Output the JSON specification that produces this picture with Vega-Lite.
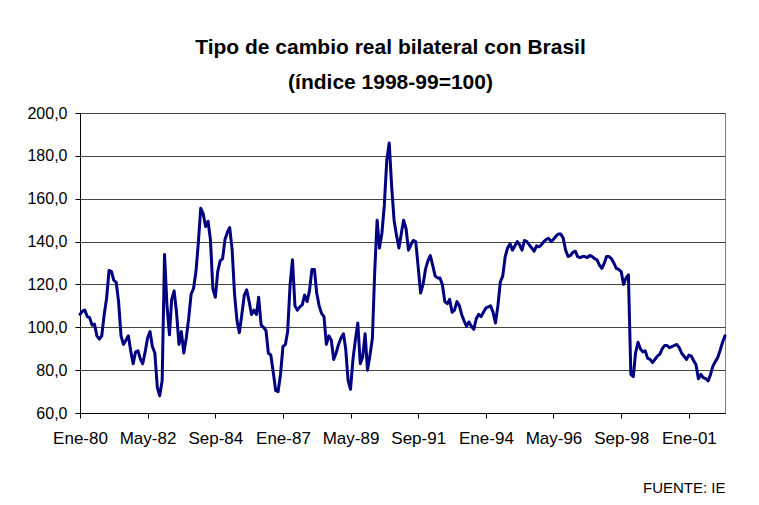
{
  "$schema": "https://vega.github.io/schema/vega-lite/v6.json",
  "width": 645,
  "height": 300,
  "autosize": {"type": "none"},
  "padding": {"left": 80, "top": 113, "right": 34, "bottom": 92},
  "background": "white",
  "title": {
    "text": ["Tipo de cambio real bilateral con Brasil", "(índice 1998-99=100)"],
    "font": "Liberation Sans",
    "fontSize": 21,
    "fontWeight": "bold",
    "color": "black",
    "anchor": "middle",
    "dx": -12,
    "offset": 12,
    "lineHeight": 35
  },
  "data": {
    "values": [
      {"fecha": "1980-01-01", "indice": 106}, {"fecha": "1980-02-01", "indice": 107.5}, {"fecha": "1980-03-01", "indice": 108}, {"fecha": "1980-04-01", "indice": 105}, {"fecha": "1980-05-01", "indice": 104.5}, {"fecha": "1980-06-01", "indice": 101}, {"fecha": "1980-07-01", "indice": 101.5}, {"fecha": "1980-08-01", "indice": 96}, {"fecha": "1980-09-01", "indice": 94.5}, {"fecha": "1980-10-01", "indice": 96}, {"fecha": "1980-11-01", "indice": 106}, {"fecha": "1980-12-01", "indice": 113.5},
      {"fecha": "1981-01-01", "indice": 126.5}, {"fecha": "1981-02-01", "indice": 126}, {"fecha": "1981-03-01", "indice": 122}, {"fecha": "1981-04-01", "indice": 121}, {"fecha": "1981-05-01", "indice": 112}, {"fecha": "1981-06-01", "indice": 96}, {"fecha": "1981-07-01", "indice": 92}, {"fecha": "1981-08-01", "indice": 94}, {"fecha": "1981-09-01", "indice": 96}, {"fecha": "1981-10-01", "indice": 89}, {"fecha": "1981-11-01", "indice": 83}, {"fecha": "1981-12-01", "indice": 88.5},
      {"fecha": "1982-01-01", "indice": 89}, {"fecha": "1982-02-01", "indice": 85}, {"fecha": "1982-03-01", "indice": 83}, {"fecha": "1982-04-01", "indice": 88.5}, {"fecha": "1982-05-01", "indice": 95}, {"fecha": "1982-06-01", "indice": 98}, {"fecha": "1982-07-01", "indice": 91}, {"fecha": "1982-08-01", "indice": 88}, {"fecha": "1982-09-01", "indice": 72}, {"fecha": "1982-10-01", "indice": 68}, {"fecha": "1982-11-01", "indice": 75}, {"fecha": "1982-12-01", "indice": 134},
      {"fecha": "1983-01-01", "indice": 110}, {"fecha": "1983-02-01", "indice": 96.5}, {"fecha": "1983-03-01", "indice": 113}, {"fecha": "1983-04-01", "indice": 117}, {"fecha": "1983-05-01", "indice": 107}, {"fecha": "1983-06-01", "indice": 92}, {"fecha": "1983-07-01", "indice": 98}, {"fecha": "1983-08-01", "indice": 88}, {"fecha": "1983-09-01", "indice": 95}, {"fecha": "1983-10-01", "indice": 104}, {"fecha": "1983-11-01", "indice": 115.5}, {"fecha": "1983-12-01", "indice": 118},
      {"fecha": "1984-01-01", "indice": 126}, {"fecha": "1984-02-01", "indice": 140}, {"fecha": "1984-03-01", "indice": 155.5}, {"fecha": "1984-04-01", "indice": 153}, {"fecha": "1984-05-01", "indice": 147}, {"fecha": "1984-06-01", "indice": 149.5}, {"fecha": "1984-07-01", "indice": 141}, {"fecha": "1984-08-01", "indice": 118}, {"fecha": "1984-09-01", "indice": 114}, {"fecha": "1984-10-01", "indice": 126}, {"fecha": "1984-11-01", "indice": 131}, {"fecha": "1984-12-01", "indice": 132},
      {"fecha": "1985-01-01", "indice": 141}, {"fecha": "1985-02-01", "indice": 144.5}, {"fecha": "1985-03-01", "indice": 146.5}, {"fecha": "1985-04-01", "indice": 136}, {"fecha": "1985-05-01", "indice": 115.5}, {"fecha": "1985-06-01", "indice": 103}, {"fecha": "1985-07-01", "indice": 97.5}, {"fecha": "1985-08-01", "indice": 106}, {"fecha": "1985-09-01", "indice": 115}, {"fecha": "1985-10-01", "indice": 117.5}, {"fecha": "1985-11-01", "indice": 112}, {"fecha": "1985-12-01", "indice": 106},
      {"fecha": "1986-01-01", "indice": 108}, {"fecha": "1986-02-01", "indice": 106}, {"fecha": "1986-03-01", "indice": 114}, {"fecha": "1986-04-01", "indice": 101}, {"fecha": "1986-05-01", "indice": 100}, {"fecha": "1986-06-01", "indice": 98.5}, {"fecha": "1986-07-01", "indice": 88}, {"fecha": "1986-08-01", "indice": 87}, {"fecha": "1986-09-01", "indice": 79}, {"fecha": "1986-10-01", "indice": 70.5}, {"fecha": "1986-11-01", "indice": 70}, {"fecha": "1986-12-01", "indice": 78},
      {"fecha": "1987-01-01", "indice": 91}, {"fecha": "1987-02-01", "indice": 92}, {"fecha": "1987-03-01", "indice": 98}, {"fecha": "1987-04-01", "indice": 120}, {"fecha": "1987-05-01", "indice": 131.5}, {"fecha": "1987-06-01", "indice": 110}, {"fecha": "1987-07-01", "indice": 108}, {"fecha": "1987-08-01", "indice": 109.5}, {"fecha": "1987-09-01", "indice": 110.5}, {"fecha": "1987-10-01", "indice": 115}, {"fecha": "1987-11-01", "indice": 112}, {"fecha": "1987-12-01", "indice": 117},
      {"fecha": "1988-01-01", "indice": 127}, {"fecha": "1988-02-01", "indice": 127}, {"fecha": "1988-03-01", "indice": 116}, {"fecha": "1988-04-01", "indice": 110}, {"fecha": "1988-05-01", "indice": 106.5}, {"fecha": "1988-06-01", "indice": 105}, {"fecha": "1988-07-01", "indice": 92}, {"fecha": "1988-08-01", "indice": 96}, {"fecha": "1988-09-01", "indice": 94}, {"fecha": "1988-10-01", "indice": 85}, {"fecha": "1988-11-01", "indice": 88}, {"fecha": "1988-12-01", "indice": 92},
      {"fecha": "1989-01-01", "indice": 95}, {"fecha": "1989-02-01", "indice": 97}, {"fecha": "1989-03-01", "indice": 90}, {"fecha": "1989-04-01", "indice": 75}, {"fecha": "1989-05-01", "indice": 71}, {"fecha": "1989-06-01", "indice": 85}, {"fecha": "1989-07-01", "indice": 94}, {"fecha": "1989-08-01", "indice": 102}, {"fecha": "1989-09-01", "indice": 83}, {"fecha": "1989-10-01", "indice": 86}, {"fecha": "1989-11-01", "indice": 97}, {"fecha": "1989-12-01", "indice": 80},
      {"fecha": "1990-01-01", "indice": 87}, {"fecha": "1990-02-01", "indice": 95}, {"fecha": "1990-03-01", "indice": 125}, {"fecha": "1990-04-01", "indice": 150}, {"fecha": "1990-05-01", "indice": 137}, {"fecha": "1990-06-01", "indice": 144}, {"fecha": "1990-07-01", "indice": 157}, {"fecha": "1990-08-01", "indice": 178}, {"fecha": "1990-09-01", "indice": 186}, {"fecha": "1990-10-01", "indice": 166}, {"fecha": "1990-11-01", "indice": 150}, {"fecha": "1990-12-01", "indice": 143},
      {"fecha": "1991-01-01", "indice": 137}, {"fecha": "1991-02-01", "indice": 144}, {"fecha": "1991-03-01", "indice": 150}, {"fecha": "1991-04-01", "indice": 146}, {"fecha": "1991-05-01", "indice": 136}, {"fecha": "1991-06-01", "indice": 138.5}, {"fecha": "1991-07-01", "indice": 140.5}, {"fecha": "1991-08-01", "indice": 140}, {"fecha": "1991-09-01", "indice": 128}, {"fecha": "1991-10-01", "indice": 116}, {"fecha": "1991-11-01", "indice": 120}, {"fecha": "1991-12-01", "indice": 127},
      {"fecha": "1992-01-01", "indice": 131}, {"fecha": "1992-02-01", "indice": 133.5}, {"fecha": "1992-03-01", "indice": 129}, {"fecha": "1992-04-01", "indice": 124}, {"fecha": "1992-05-01", "indice": 123}, {"fecha": "1992-06-01", "indice": 123}, {"fecha": "1992-07-01", "indice": 120}, {"fecha": "1992-08-01", "indice": 112}, {"fecha": "1992-09-01", "indice": 111}, {"fecha": "1992-10-01", "indice": 113}, {"fecha": "1992-11-01", "indice": 107}, {"fecha": "1992-12-01", "indice": 108},
      {"fecha": "1993-01-01", "indice": 112}, {"fecha": "1993-02-01", "indice": 110}, {"fecha": "1993-03-01", "indice": 106}, {"fecha": "1993-04-01", "indice": 103}, {"fecha": "1993-05-01", "indice": 100.5}, {"fecha": "1993-06-01", "indice": 102.5}, {"fecha": "1993-07-01", "indice": 100.5}, {"fecha": "1993-08-01", "indice": 99}, {"fecha": "1993-09-01", "indice": 104}, {"fecha": "1993-10-01", "indice": 106}, {"fecha": "1993-11-01", "indice": 105}, {"fecha": "1993-12-01", "indice": 107},
      {"fecha": "1994-01-01", "indice": 109}, {"fecha": "1994-02-01", "indice": 109.5}, {"fecha": "1994-03-01", "indice": 110}, {"fecha": "1994-04-01", "indice": 107}, {"fecha": "1994-05-01", "indice": 102}, {"fecha": "1994-06-01", "indice": 110}, {"fecha": "1994-07-01", "indice": 121}, {"fecha": "1994-08-01", "indice": 124}, {"fecha": "1994-09-01", "indice": 133}, {"fecha": "1994-10-01", "indice": 137}, {"fecha": "1994-11-01", "indice": 139}, {"fecha": "1994-12-01", "indice": 136},
      {"fecha": "1995-01-01", "indice": 138}, {"fecha": "1995-02-01", "indice": 140}, {"fecha": "1995-03-01", "indice": 138.5}, {"fecha": "1995-04-01", "indice": 136}, {"fecha": "1995-05-01", "indice": 140.5}, {"fecha": "1995-06-01", "indice": 140}, {"fecha": "1995-07-01", "indice": 138.5}, {"fecha": "1995-08-01", "indice": 137}, {"fecha": "1995-09-01", "indice": 135.5}, {"fecha": "1995-10-01", "indice": 138}, {"fecha": "1995-11-01", "indice": 137.5}, {"fecha": "1995-12-01", "indice": 138.5},
      {"fecha": "1996-01-01", "indice": 140}, {"fecha": "1996-02-01", "indice": 141}, {"fecha": "1996-03-01", "indice": 141.5}, {"fecha": "1996-04-01", "indice": 140}, {"fecha": "1996-05-01", "indice": 141}, {"fecha": "1996-06-01", "indice": 142.5}, {"fecha": "1996-07-01", "indice": 143.5}, {"fecha": "1996-08-01", "indice": 143.5}, {"fecha": "1996-09-01", "indice": 141.5}, {"fecha": "1996-10-01", "indice": 136}, {"fecha": "1996-11-01", "indice": 133}, {"fecha": "1996-12-01", "indice": 133.5},
      {"fecha": "1997-01-01", "indice": 135}, {"fecha": "1997-02-01", "indice": 135.5}, {"fecha": "1997-03-01", "indice": 133}, {"fecha": "1997-04-01", "indice": 132.5}, {"fecha": "1997-05-01", "indice": 133}, {"fecha": "1997-06-01", "indice": 133}, {"fecha": "1997-07-01", "indice": 132.5}, {"fecha": "1997-08-01", "indice": 133.5}, {"fecha": "1997-09-01", "indice": 133}, {"fecha": "1997-10-01", "indice": 132}, {"fecha": "1997-11-01", "indice": 131.5}, {"fecha": "1997-12-01", "indice": 129},
      {"fecha": "1998-01-01", "indice": 127.5}, {"fecha": "1998-02-01", "indice": 130}, {"fecha": "1998-03-01", "indice": 133}, {"fecha": "1998-04-01", "indice": 133}, {"fecha": "1998-05-01", "indice": 132}, {"fecha": "1998-06-01", "indice": 130}, {"fecha": "1998-07-01", "indice": 127.5}, {"fecha": "1998-08-01", "indice": 127}, {"fecha": "1998-09-01", "indice": 126}, {"fecha": "1998-10-01", "indice": 120}, {"fecha": "1998-11-01", "indice": 123}, {"fecha": "1998-12-01", "indice": 124.5},
      {"fecha": "1999-01-01", "indice": 78}, {"fecha": "1999-02-01", "indice": 77}, {"fecha": "1999-03-01", "indice": 88}, {"fecha": "1999-04-01", "indice": 93}, {"fecha": "1999-05-01", "indice": 90}, {"fecha": "1999-06-01", "indice": 88.5}, {"fecha": "1999-07-01", "indice": 89}, {"fecha": "1999-08-01", "indice": 85.5}, {"fecha": "1999-09-01", "indice": 85}, {"fecha": "1999-10-01", "indice": 83.5}, {"fecha": "1999-11-01", "indice": 85}, {"fecha": "1999-12-01", "indice": 86.5},
      {"fecha": "2000-01-01", "indice": 87.5}, {"fecha": "2000-02-01", "indice": 90}, {"fecha": "2000-03-01", "indice": 91.5}, {"fecha": "2000-04-01", "indice": 91.5}, {"fecha": "2000-05-01", "indice": 90.5}, {"fecha": "2000-06-01", "indice": 91}, {"fecha": "2000-07-01", "indice": 91.5}, {"fecha": "2000-08-01", "indice": 92}, {"fecha": "2000-09-01", "indice": 90.5}, {"fecha": "2000-10-01", "indice": 88}, {"fecha": "2000-11-01", "indice": 86.5}, {"fecha": "2000-12-01", "indice": 85},
      {"fecha": "2001-01-01", "indice": 87}, {"fecha": "2001-02-01", "indice": 86.5}, {"fecha": "2001-03-01", "indice": 84.5}, {"fecha": "2001-04-01", "indice": 82.5}, {"fecha": "2001-05-01", "indice": 76}, {"fecha": "2001-06-01", "indice": 78}, {"fecha": "2001-07-01", "indice": 76.5}, {"fecha": "2001-08-01", "indice": 76}, {"fecha": "2001-09-01", "indice": 75}, {"fecha": "2001-10-01", "indice": 78}, {"fecha": "2001-11-01", "indice": 82}, {"fecha": "2001-12-01", "indice": 84},
      {"fecha": "2002-01-01", "indice": 86}, {"fecha": "2002-02-01", "indice": 89.5}, {"fecha": "2002-03-01", "indice": 93}, {"fecha": "2002-04-01", "indice": 96}
    ]
  },
  "mark": {"type": "line", "color": "#000080", "strokeWidth": 3, "strokeJoin": "round", "strokeCap": "round", "clip": false},
  "encoding": {
    "x": {
      "field": "fecha",
      "type": "temporal",
      "scale": {
        "type": "utc",
        "domain": [
          {"year": 1980, "month": 1, "date": 1, "utc": true},
          {"year": 2002, "month": 4, "date": 1, "utc": true}
        ]
      },
      "axis": {
        "values": [
          {"year": 1980, "month": 1, "date": 1, "utc": true},
          {"year": 1982, "month": 5, "date": 1, "utc": true},
          {"year": 1984, "month": 9, "date": 1, "utc": true},
          {"year": 1987, "month": 1, "date": 1, "utc": true},
          {"year": 1989, "month": 5, "date": 1, "utc": true},
          {"year": 1991, "month": 9, "date": 1, "utc": true},
          {"year": 1994, "month": 1, "date": 1, "utc": true},
          {"year": 1996, "month": 5, "date": 1, "utc": true},
          {"year": 1998, "month": 9, "date": 1, "utc": true},
          {"year": 2001, "month": 1, "date": 1, "utc": true}
        ],
        "labelExpr": "['Ene','Feb','Mar','Abr','May','Jun','Jul','Ago','Sep','Oct','Nov','Dic'][utcmonth(datum.value)] + '-' + utcFormat(datum.value, '%y')",
        "grid": false,
        "domainColor": "black",
        "domainWidth": 1,
        "tickColor": "black",
        "tickSize": 5,
        "labelFont": "Liberation Sans",
        "labelFontSize": 17,
        "labelColor": "black",
        "labelPadding": 12,
        "labelOverlap": false,
        "labelFlush": false,
        "title": "FUENTE: IE",
        "titleAnchor": "end",
        "titleFont": "Liberation Sans",
        "titleFontWeight": "normal",
        "titleFontSize": 15,
        "titleColor": "black",
        "titlePadding": 34
      }
    },
    "y": {
      "field": "indice",
      "type": "quantitative",
      "scale": {"domain": [60, 200], "nice": false, "zero": false},
      "axis": {
        "values": [60, 80, 100, 120, 140, 160, 180, 200],
        "labelExpr": "replace(format(datum.value, '.1f'), '.', ',')",
        "grid": true,
        "gridColor": "#444444",
        "gridWidth": 1,
        "domainColor": "black",
        "domainWidth": 1,
        "tickColor": "black",
        "tickSize": 5,
        "labelFont": "Liberation Sans",
        "labelFontSize": 16,
        "labelColor": "black",
        "labelPadding": 8,
        "title": null
      }
    }
  },
  "config": {
    "view": {"stroke": "#808080", "strokeWidth": 1}
  }
}
